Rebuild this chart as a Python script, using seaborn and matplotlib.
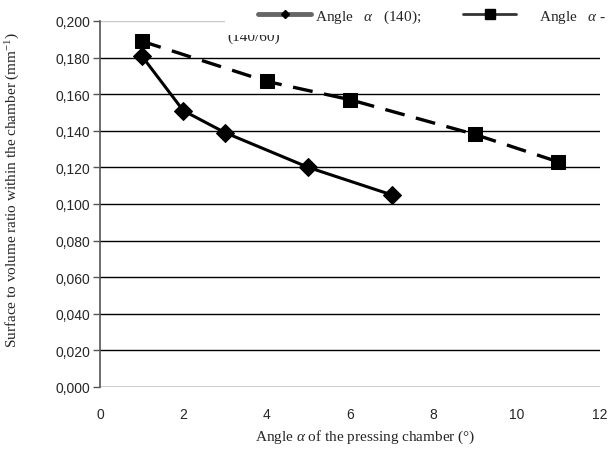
import numpy as np
import pandas as pd
import seaborn as sns
import matplotlib.pyplot as plt
from matplotlib.lines import Line2D
from matplotlib.patches import Rectangle

# values
angle_140 = [1, 2, 3, 5, 7]
ratio_140 = [0.181, 0.151, 0.139, 0.120, 0.105]
angle_140_60 = [1, 4, 6, 9, 11]
ratio_140_60 = [0.189, 0.167, 0.157, 0.138, 0.123]
label_140 = "Angle   $\\alpha$   (140);"
label_140_60 = "     Angle   $\\alpha$ -"
y_ticks = [0.0, 0.02, 0.04, 0.06, 0.08, 0.10, 0.12, 0.14, 0.16, 0.18, 0.20]
x_ticks = [0, 2, 4, 6, 8, 10, 12]

sns.set_style("white")
plt.rcParams["font.family"] = ["Liberation Sans", "DejaVu Sans"]
plt.rcParams["mathtext.fontset"] = "custom"
plt.rcParams["mathtext.it"] = "Liberation Serif:italic"
plt.rcParams["mathtext.rm"] = "Liberation Serif"

df1 = pd.DataFrame({"angle": angle_140, "ratio": ratio_140})
df2 = pd.DataFrame({"angle": angle_140_60, "ratio": ratio_140_60})

fig = plt.figure(figsize=(6.14, 4.56), dpi=100)
ax = fig.add_axes([100/614, 1-388/456, 500/614, 366/456])

# gridlines
for t in y_ticks:
    ax.axhline(t, color="black" if t < 0.2 else "#c8c8c8", lw=1.0, zorder=1)

sns.lineplot(data=df1, x="angle", y="ratio", ax=ax, color="black", lw=2.2,
             marker="D", markersize=9, markeredgecolor="black", zorder=3)
sns.lineplot(data=df2, x="angle", y="ratio", ax=ax, color="black", lw=2.4,
             linestyle=(0, (6, 3.5)), marker="s", markersize=10,
             markeredgecolor="black", zorder=3)

ax.set_xlim(0, 12)
ax.set_ylim(0, 0.2)
ax.set_xticks(x_ticks)
ax.set_yticks(y_ticks)
ax.set_yticklabels([f"{t:.3f}".replace(".", ",") for t in y_ticks])
ax.tick_params(axis="y", left=True, length=5, width=1, color="#555555",
               labelsize=10, pad=2)
ax.tick_params(axis="x", bottom=False, labelsize=10, pad=11)

for s in ["top", "right", "bottom"]:
    ax.spines[s].set_visible(False)
ax.spines["left"].set_color("#555555")
ax.spines["left"].set_linewidth(1.2)

ax.set_xlabel("Angle $\\alpha$ of the pressing chamber (°)",
              family="Liberation Serif", fontsize=11)
ax.set_ylabel("Surface to volume ratio within the chamber (mm$^{-1}$)",
              family="Liberation Serif", fontsize=11)
ax.xaxis.set_label_coords(0.53, -0.112)
ax.yaxis.set_label_coords(-0.156, 0.541)

# wrapped piece of the legend text, half hidden under the legend box
fig.text(227/614, 1-41/456, "(140/60)", family="Liberation Serif",
         fontsize=11, va="baseline", zorder=0.5)
fig.add_artist(Rectangle((225/614, 1-36/456), 1, 36/456, transform=fig.transFigure,
                         facecolor="white", edgecolor="none", zorder=1))

handles = [
    Line2D([], [], color="#666666", lw=3.5, marker="D", markersize=4,
           markerfacecolor="black", markeredgecolor="black"),
    Line2D([], [], color="#333333", lw=2, marker="s", markersize=6.5,
           markerfacecolor="black", markeredgecolor="black"),
]
leg = fig.legend(handles, [label_140, label_140_60], loc="center left",
                 bbox_to_anchor=(258/614, 1-17/456), ncol=2, frameon=False,
                 borderaxespad=0, borderpad=0, handlelength=3.5,
                 handletextpad=0.25, columnspacing=2.7,
                 prop={"family": "Liberation Serif", "size": 11})
leg.set_zorder(10)

fig.savefig("out.png", dpi=100)
